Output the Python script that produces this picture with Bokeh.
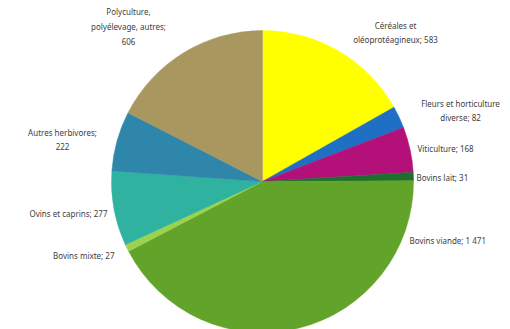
import math
from bokeh.plotting import figure
from bokeh.models import Range1d, ColumnDataSource
from bokeh.core.properties import value
from bokeh.embed import file_html
from bokeh.resources import INLINE

categories = ["Céréales et oléoprotéagineux", "Fleurs et horticulture diverse", "Viticulture",
              "Bovins lait", "Bovins viande", "Bovins mixte", "Ovins et caprins",
              "Autres herbivores", "Polyculture, polyélevage, autres"]
counts = [583, 82, 168, 31, 1471, 27, 277, 222, 606]
colors = ["#FFFF00", "#1F6FC4", "#B4107A", "#1E6E2C", "#62A32A", "#9CD24E", "#2FB3A0", "#2E86AA", "#A8975E"]
label_texts = ["Céréales et\noléoprotéagineux; 583", "Fleurs et horticulture\ndiverse; 82",
               "Viticulture; 168", "Bovins lait; 31", "Bovins viande; 1 471", "Bovins mixte; 27",
               "Ovins et caprins; 277", "Autres herbivores;\n222", "Polyculture,\npolyélevage, autres;\n606"]

W, H = 510, 329
cx, cy, R = 262, H - 181, 151

total = sum(counts)
starts, ends = [], []
acc = 0.0
for c in counts:
    a0 = acc / total * 2 * math.pi
    acc += c
    a1 = acc / total * 2 * math.pi
    starts.append(math.pi / 2 - a1)
    ends.append(math.pi / 2 - a0)

src = ColumnDataSource(dict(start=starts, end=ends, color=colors, cat=categories,
                            x=[cx] * len(counts), y=[cy] * len(counts)))

p = figure(width=W, height=H, output_backend="svg", toolbar_location=None,
           x_range=Range1d(0, W), y_range=Range1d(0, H), min_border=0)
p.axis.visible = False
p.grid.visible = False
p.outline_line_color = None
p.background_fill_color = "white"

p.wedge(x="x", y="y", radius=R, start_angle="start", end_angle="end", fill_color="color",
        line_color="color", line_width=0.5, direction="anticlock", source=src)

# label layout (pixel anchors from top-left), alignment
layout = [
    (395, 32, "center"),
    (460, 110, "center"),
    (417, 148, "left"),
    (416, 177, "left"),
    (409, 240, "left"),
    (114, 255, "right"),
    (107, 213, "right"),
    (62, 139, "center"),
    (128, 26, "center"),
]
for txt, (lx, ly, al) in zip(label_texts, layout):
    p.text(x=[lx], y=[H - ly], text=[txt], text_align=al, text_baseline="middle",
           text_font=value("Noto Sans"), text_font_size="8px", text_color="#404040",
           text_line_height=1.35)

open("out.html", "w").write(file_html(p, INLINE))
